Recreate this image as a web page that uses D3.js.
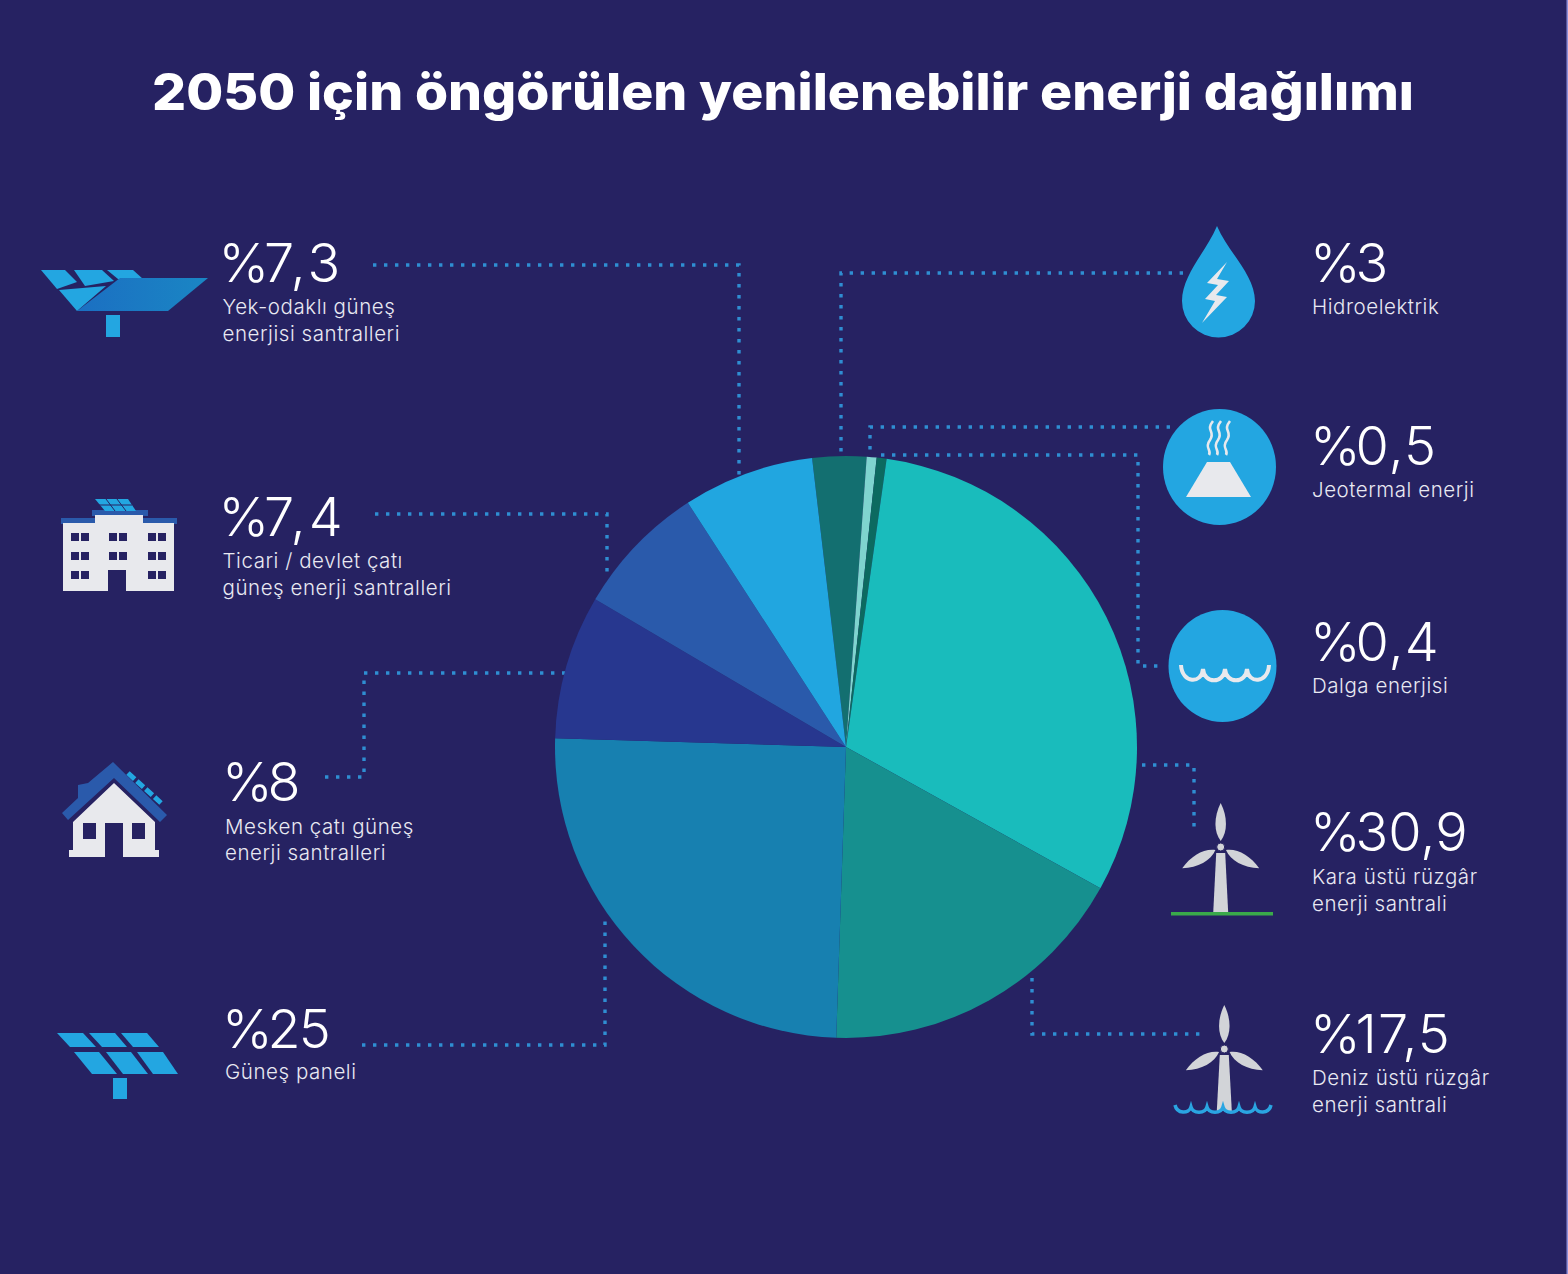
<!DOCTYPE html>
<html>
<head>
<meta charset="utf-8">
<script src="https://cdn.jsdelivr.net/npm/d3@7"></script>
<style>
  html, body { margin: 0; padding: 0; background: #262262; }
  svg { display: block; }
</style>
</head>
<body>
<div id="chart"></div>
<script>
// slices in drawing order, clockwise from the hydro slice
const categories = ["Hidroelektrik", "Jeotermal enerji", "Dalga enerjisi", "Kara üstü rüzgâr enerji santrali",
  "Deniz üstü rüzgâr enerji santrali", "Güneş paneli", "Mesken çatı güneş enerji santralleri",
  "Ticari / devlet çatı güneş enerji santralleri", "Yek-odaklı güneş enerjisi santralleri"];
// wedge sizes as drawn, the two thin slices are a bit wider in the picture than their printed numbers
const shares = [3, 0.55, 0.55, 30.9, 17.5, 25, 8, 7.4, 7.3];
const sliceColors = ["#136f70", "#7fd4cf", "#0c6a60", "#19bcbc", "#16908f", "#1780b0", "#27378f", "#2a5aab", "#21a6e0"];

const valueLabels = ["%3", "%0,5", "%0,4", "%30,9", "%17,5", "%25", "%8", "%7,4", "%7,3"];
const nameLines = [["Hidroelektrik"], ["Jeotermal enerji"], ["Dalga enerjisi"], ["Kara üstü rüzgâr", "enerji santrali"],
  ["Deniz üstü rüzgâr", "enerji santrali"], ["Güneş paneli"], ["Mesken çatı güneş", "enerji santralleri"],
  ["Ticari / devlet çatı", "güneş enerji santralleri"], ["Yek-odaklı güneş", "enerjisi santralleri"]];

const W = 1568, H = 1274;
const BG = "#262262", ICON = "#23a6e1", LIGHT = "#e8e9ed", ROOF = "#2a5aab", GREY = "#d2d4d8";
const FONT = "Inter, 'Noto Sans', sans-serif";

const svg = d3.select("#chart").append("svg").attr("width", W).attr("height", H);
svg.append("rect").attr("width", W).attr("height", H).attr("fill", BG);
svg.append("rect").attr("x", W - 1.5).attr("width", 1.5).attr("height", H).attr("fill", "#8f8fd8");

svg.append("text").attr("x", 783).attr("y", 110).attr("text-anchor", "middle")
  .attr("font-family", FONT).attr("font-weight", 800).attr("font-size", 51)
  .attr("fill", "#fff").attr("textLength", 1262).attr("lengthAdjust", "spacingAndGlyphs")
  .text("2050 için öngörülen yenilenebilir enerji dağılımı");

// dotted leader lines, under the pie so they stop at its edge
const leaderPaths = [
  "M373,265H739V475", "M375,514H607V575", "M325,777H364V673H566", "M362,1045H605V918",
  "M1183,273H841V455", "M1170,427H870V453", "M881,455H1138V666H1165", "M1142,765H1194V828", "M1032,978V1034H1203"
];
svg.append("g").selectAll("path").data(leaderPaths).join("path")
  .attr("d", d => d).attr("fill", "none").attr("stroke", "#2f8ed2")
  .attr("stroke-width", 3.4).attr("stroke-dasharray", "3.4 7.6");

// pie
const startDeg = -6.7;
const pie = d3.pie().sort(null)
  .startAngle(startDeg * Math.PI / 180)
  .endAngle((startDeg + 360) * Math.PI / 180);
const arc = d3.arc().innerRadius(0).outerRadius(291);
svg.append("g").attr("transform", "translate(846,747)")
  .selectAll("path").data(pie(shares)).join("path")
  .attr("d", arc).attr("fill", (d, i) => sliceColors[i]);

// text blocks, same order as the slices
const textPos = [
  { x: 1312, y: 282, vx: -2, name: [314] }, { x: 1312, y: 465, vx: -2, name: [497] }, { x: 1312, y: 661, vx: -2, name: [693] },
  { x: 1312, y: 851, vx: -2, name: [884, 911] }, { x: 1312, y: 1053, vx: -2, name: [1085, 1112] },
  { x: 225, y: 1048, vx: -3, name: [1079] }, { x: 225, y: 801, vx: -3, name: [834, 860] },
  { x: 222.5, y: 536, vx: -4, name: [568, 595] }, { x: 222.5, y: 282, vx: -4, name: [314, 341] }
];
const digitTrack = [0, 1, 1, 0, 1, -2, 0, 3, 3];
// per glyph nudges: pull the digits towards the % sign, then open them up a little
function glyphDx(label, track) {
  return Array.from(label).map((c, i) => (i === 0 ? 0 : i === 1 ? -5 : track)).join(" ");
}
const blocks = svg.append("g").selectAll("g").data(categories).join("g")
  .attr("transform", (d, i) => `translate(${textPos[i].x},0)`);
blocks.append("text").attr("x", (d, i) => textPos[i].vx).attr("y", (d, i) => textPos[i].y)
  .attr("dx", (d, i) => glyphDx(valueLabels[i], digitTrack[i]))
  .attr("font-family", FONT).attr("font-weight", 300).attr("font-size", 54).attr("fill", "#fff")
  .text((d, i) => valueLabels[i]);
blocks.each(function (d, i) {
  d3.select(this).selectAll("text.name").data(nameLines[i]).join("text")
    .attr("class", "name").attr("y", (l, j) => textPos[i].name[j])
    .attr("font-family", FONT).attr("font-weight", 350).attr("font-size", 20.5).attr("letter-spacing", 0.55)
    .attr("fill", "#e9e9f2").text(l => l);
});

// icons
const icons = svg.append("g");
function poly(points, fill) {
  icons.append("polygon").attr("points", points).attr("fill", fill);
}
function box(x, y, w, h, fill) {
  icons.append("rect").attr("x", x).attr("y", y).attr("width", w).attr("height", h).attr("fill", fill);
}

// tower style solar plant
const grad = svg.append("defs").append("linearGradient").attr("id", "cspGrad")
  .attr("x1", 0).attr("x2", 1).attr("y1", 0).attr("y2", 0);
grad.append("stop").attr("offset", "0").attr("stop-color", "#1b6fc2");
grad.append("stop").attr("offset", "1").attr("stop-color", "#1a86c4");
poly("41,270 65,270 77,282 57,289", ICON);
poly("74,270 102,270 114,281 85,286", ICON);
poly("107,270 133,270 143,279 118,279", ICON);
poly("59,290 106,286 77,311", ICON);
poly("208,278 120,278 77,311 168,311", "url(#cspGrad)");
box(106, 315, 14, 22, ICON);

// building
box(61, 518, 116, 6, ROOF);
box(92, 510, 56, 6, ROOF);
poly("95,499 128,499 136,511 105,511", ICON);
icons.append("path").attr("d", "M99,505H132M106,499L115,511M117,499L126,511").attr("stroke", BG).attr("stroke-width", 1);
box(63, 523, 111, 68, LIGHT);
box(95, 515, 48, 10, LIGHT);
box(108, 570, 18, 22, BG);
[[71, 533], [109, 533], [148, 533], [71, 552], [109, 552], [148, 552], [71, 571], [148, 571]].forEach(p => {
  box(p[0], p[1], 8, 8, BG);
  box(p[0] + 10, p[1], 8, 8, BG);
});

// house
poly("62,813 78,798 78,785 88,783 113,762 167,815 160,822 114,778 68,820", ROOF);
poly("114,783 155,822 155,850 159,850 159,857 123,857 123,823 105,823 105,857 69,857 69,850 73,850 73,822", LIGHT);
box(83, 823, 13, 16, BG);
box(132, 823, 13, 16, BG);
icons.append("path").attr("d", "M128,773L161,803").attr("stroke", ICON).attr("stroke-width", 5)
  .attr("stroke-dasharray", "9 3").attr("fill", "none");

// solar panel
poly("57,1033 83,1033 96,1047 70,1047", ICON);
poly("89,1033 115,1033 127,1047 102,1047", ICON);
poly("121,1033 147,1033 159,1047 133,1047", ICON);
poly("74,1052 99,1052 117,1074 92,1074", ICON);
poly("106,1052 131,1052 148,1074 123,1074", ICON);
poly("137,1052 163,1052 178,1074 153,1074", ICON);
box(113, 1078, 14, 21, ICON);

// water drop
icons.append("path").attr("fill", ICON)
  .attr("d", "M1217,226C1228,252 1255,275 1255,301A36.5,36.5 0 0 1 1182,301C1182,275 1206,252 1217,226Z");
poly("1227,262 1207,283 1218,285 1205,299 1215,301 1202,323 1227,297 1216,295 1229,281 1217,279", LIGHT);

// geothermal
icons.append("ellipse").attr("cx", 1219.5).attr("cy", 467).attr("rx", 56.5).attr("ry", 58).attr("fill", ICON);
poly("1186,497 1207,462 1230,462 1251,497", LIGHT);
[1207, 1215, 1224].forEach(x => {
  icons.append("path").attr("fill", "none").attr("stroke", LIGHT).attr("stroke-width", 2.6)
    .attr("d", `M${x + 6},421c-8,10 3,10 -3,19c-6,8 2,10 -1,15`);
});

// wave
icons.append("ellipse").attr("cx", 1222.5).attr("cy", 666).attr("rx", 54).attr("ry", 56).attr("fill", ICON);
const waveD = "M1181,665c1,19 21,19 22,4c1,15 21,15 22,0c1,15 21,15 22,0c1,15 21,15 22,-4";
icons.append("path").attr("d", waveD).attr("fill", "none").attr("stroke", LIGHT).attr("stroke-width", 4);

// wind turbines
function turbine(hx, hy, bottom) {
  const g = icons.append("g").attr("transform", `translate(${hx},${hy})`);
  g.append("polygon").attr("points", `-4.5,6 4.5,6 7.5,${bottom - hy} -7.5,${bottom - hy}`).attr("fill", GREY);
  [0, 119, -119].forEach(a => {
    g.append("path").attr("transform", `rotate(${a})`).attr("fill", GREY)
      .attr("d", "M0,-6C-7,-15 -7,-30 0,-44C7,-30 7,-15 0,-6Z");
  });
  g.append("circle").attr("r", 4).attr("fill", GREY).attr("stroke", BG).attr("stroke-width", 1);
}
turbine(1220.7, 847, 913);
box(1171, 912, 102, 3.5, "#3aaa4a");
turbine(1224.3, 1049, 1111);
icons.append("path").attr("fill", "none").attr("stroke", "#2aa5e2").attr("stroke-width", 3.5)
  .attr("d", "M1175,1105c2,9 14,9 16,2c2,7 14,7 16,0c2,7 14,7 16,0c2,7 14,7 16,0c2,7 14,7 16,0c2,7 14,7 16,-2");
</script>
</body>
</html>
